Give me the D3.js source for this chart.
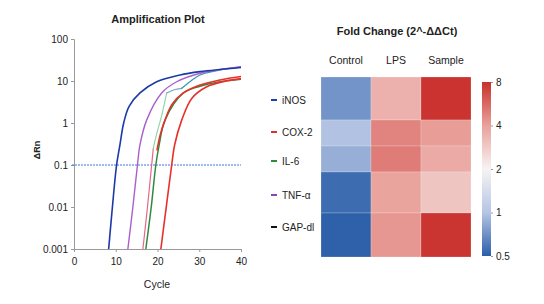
<!DOCTYPE html>
<html>
<head>
    <meta charset="UTF-8" />
    <title>qPCR</title>
    <style>
        body {
            margin: 0;
            padding: 0;
            background: #fff;
            font-family: 'Liberation Sans', Arial, sans-serif;
        }
        svg text { fill: #222; }
    </style>
</head>
<body>
    <div class="container"></div>

    <script src="https://cdnjs.cloudflare.com/ajax/libs/d3/7.8.5/d3.min.js"></script>
    <script>
        // ---- data ----
        const cycleTicks = [0, 10, 20, 30, 40];
        const rnTicks = [0.001, 0.01, 0.1, 1, 10, 100];
        const rnTickLabels = ['0.001', '0.01', '0.1', '1', '10', '100'];
        const threshold = 0.1;

        // amplification curves as [cycle, ΔRn]
        const curveGreen = [[17.2, 0.001], [18.5, 0.01], [19.6, 0.1], [20.4, 0.3], [21.8, 1.17], [26.2, 5.2], [30, 7.4], [35, 9.6], [40, 11]];
        const curveBlue = [[8.3, 0.001], [9.2, 0.01], [10.2, 0.1], [11, 0.3], [11.9, 1], [13.2, 2.5], [15.8, 5.2], [19.8, 9.6], [25.4, 13.9], [30.2, 16.7], [40, 21]];
        const curvePurple = [[12.9, 0.001], [14.1, 0.01], [15.2, 0.1], [15.8, 0.3], [17.4, 1.17], [21, 5.2], [24.6, 9.6], [30.2, 15.3], [40, 21.5]];
        const curvePink = [[16.5, 0.001], [17.6, 0.01], [18.6, 0.1], [19.0, 0.25]];
        const curveLightGreen = [[19.0, 0.25], [19.8, 0.55], [21, 1.5], [22.2, 5.2]];
        const curveSteel = [[22.2, 5.2], [24, 6.2], [25.8, 6.7]];
        const curveTeal = [[25.8, 6.7], [28, 10], [30.2, 13.9], [34, 17.5], [40, 22]];
        const curveRedA = [[19.9, 0.23], [20.6, 0.5], [21.8, 1.17], [23.5, 2.8], [26.2, 5.2], [30.2, 8], [35, 10.6], [40, 12.8]];
        const curveRedB = [[20.8, 0.001], [22.1, 0.01], [23.4, 0.1], [24.1, 0.3], [25.8, 1.17], [28.2, 3.85], [31.8, 7.3], [36, 9.8], [40, 11.4]];

        const genes = ['iNOS', 'COX-2', 'IL-6', 'TNF-α', 'GAP-dl'];
        const geneColors = ['#1f3fae', '#e0302a', '#2e8b3e', '#8e44ad', '#111'];
        const conditions = ['Control', 'LPS', 'Sample'];
        // fold change per gene: Control, LPS, Sample
        const foldControl = [0.72, 0.98, 0.86, 0.55, 0.51];
        const foldLPS = [3.5, 4.8, 5.0, 3.9, 4.25];
        const foldSample = [7.8, 4.1, 3.7, 2.95, 7.7];
        const scaleTicks = [0.5, 1, 2, 4, 8];

        // ---- layout ----
        const W = 544, H = 304;
        const svg = d3.select('.container').append('svg')
            .attr('width', W)
            .attr('height', H);
        const defs = svg.append('defs');

        // ===== amplification plot =====
        const x = d3.scaleLinear().domain([0, 40]).range([74, 241]);
        const y = d3.scaleLog().domain([0.001, 100]).range([249, 39]);

        svg.append('text')
            .attr('x', 158).attr('y', 23)
            .attr('text-anchor', 'middle')
            .style('font-size', '11px').style('font-weight', 'bold')
            .text('Amplification Plot');

        const yAxis = svg.append('g')
            .attr('transform', `translate(${x(0)},0)`)
            .call(d3.axisLeft(y).tickValues(rnTicks)
                .tickFormat((d, i) => rnTickLabels[i]).tickSize(3).tickPadding(3));
        const xAxis = svg.append('g')
            .attr('transform', `translate(0,${y(0.001)})`)
            .call(d3.axisBottom(x).tickValues(cycleTicks).tickSize(3).tickPadding(6));

        [xAxis, yAxis].forEach(g => {
            g.selectAll('path, line').attr('stroke', '#999');
            g.selectAll('text').style('font-size', '10px').attr('fill', '#222');
        });

        svg.append('text')
            .attr('x', 157).attr('y', 288)
            .attr('text-anchor', 'middle')
            .style('font-size', '10.5px')
            .text('Cycle');

        svg.append('text')
            .attr('transform', 'translate(40,150) rotate(-90)')
            .attr('text-anchor', 'middle')
            .style('font-size', '9px').style('font-weight', 'bold')
            .text('ΔRn');

        defs.append('clipPath').attr('id', 'plotClip')
            .append('rect')
            .attr('x', x(0)).attr('y', y(100))
            .attr('width', x(40) - x(0)).attr('height', y(0.001) - y(100));

        svg.append('line')
            .attr('x1', x(0) - 2).attr('x2', x(40))
            .attr('y1', y(threshold)).attr('y2', y(threshold))
            .attr('stroke', '#3b78d8').attr('stroke-width', 1)
            .attr('stroke-dasharray', '2,1');

        const lineGen = d3.line()
            .x(d => x(d[0]))
            .y(d => y(d[1]))
            .curve(d3.curveCatmullRom.alpha(0.5));

        const curves = [
            { pts: curveGreen, color: '#2e8b3e', w: 1.5 },
            { pts: curvePink, color: '#e8658c', w: 1.2 },
            { pts: curveLightGreen, color: '#93d6a8', w: 1.2 },
            { pts: curveSteel, color: '#7aa6c8', w: 1.2 },
            { pts: curveTeal, color: '#3f9ab0', w: 1.3 },
            { pts: curvePurple, color: '#a95fcc', w: 1.4 },
            { pts: curveRedA, color: '#e6302a', w: 1.6 },
            { pts: curveRedB, color: '#e8302a', w: 1.6 },
            { pts: curveBlue, color: '#1a3aa8', w: 1.6 }
        ];

        const lines = svg.append('g').attr('clip-path', 'url(#plotClip)');
        curves.forEach(c => {
            lines.append('path')
                .attr('d', lineGen(c.pts))
                .attr('fill', 'none')
                .attr('stroke', c.color)
                .attr('stroke-width', c.w)
                .attr('stroke-linecap', 'round');
        });

        // ===== legend =====
        const legendY = [100, 132, 161, 195, 227];
        const legend = svg.append('g');
        genes.forEach((g, i) => {
            legend.append('line')
                .attr('x1', 271).attr('x2', 277)
                .attr('y1', legendY[i]).attr('y2', legendY[i])
                .attr('stroke', geneColors[i]).attr('stroke-width', 2);
            legend.append('text')
                .attr('x', 282).attr('y', legendY[i] + 3.5)
                .style('font-size', '10px').attr('fill', '#333')
                .text(g);
        });

        // ===== heatmap =====
        const rowEdges = [77, 120, 146, 172, 213, 257];
        const rowIdx = d3.scaleOrdinal().domain(genes).range(d3.range(genes.length));
        const colX = d3.scaleBand().domain(conditions).range([321, 471]);

        const color = d3.scaleLog()
            .domain(scaleTicks)
            .range(['#2a5ea8', '#b5c5e4', '#f7f3f3', '#e9a19b', '#c92f2b'])
            .interpolate(d3.interpolateRgb);

        const cells = [];
        genes.forEach((g, i) => {
            cells.push({ gene: g, cond: 'Control', v: foldControl[i] });
            cells.push({ gene: g, cond: 'LPS', v: foldLPS[i] });
            cells.push({ gene: g, cond: 'Sample', v: foldSample[i] });
        });

        svg.append('g').selectAll('rect')
            .data(cells)
            .join('rect')
            .attr('x', d => colX(d.cond))
            .attr('y', d => rowEdges[rowIdx(d.gene)])
            .attr('width', colX.bandwidth())
            .attr('height', d => rowEdges[rowIdx(d.gene) + 1] - rowEdges[rowIdx(d.gene)])
            .attr('fill', d => color(d.v))
            .attr('stroke', 'rgba(255,255,255,0.35)')
            .attr('stroke-width', 0.6);

        svg.append('text')
            .attr('x', 397).attr('y', 35)
            .attr('text-anchor', 'middle')
            .style('font-size', '11px').style('font-weight', 'bold')
            .text('Fold Change (2^-ΔΔCt)');

        svg.append('g').selectAll('text')
            .data(conditions)
            .join('text')
            .attr('x', d => colX(d) + colX.bandwidth() / 2)
            .attr('y', 64)
            .attr('text-anchor', 'middle')
            .style('font-size', '10.5px')
            .text(d => d);

        // colour bar
        const cb = d3.scaleLog().domain([0.5, 8]).range([256, 82]);
        const grad = defs.append('linearGradient')
            .attr('id', 'cbGrad')
            .attr('x1', 0).attr('y1', 1).attr('x2', 0).attr('y2', 0);
        d3.range(0, 1.0001, 0.05).forEach(t => {
            const v = cb.invert(256 - t * 174);
            grad.append('stop').attr('offset', t).attr('stop-color', color(v));
        });
        svg.append('rect')
            .attr('x', 482).attr('y', cb(8))
            .attr('width', 9).attr('height', cb(0.5) - cb(8))
            .attr('fill', 'url(#cbGrad)');

        const cbAxis = svg.append('g')
            .attr('transform', 'translate(491,0)')
            .call(d3.axisRight(cb).tickValues(scaleTicks).tickFormat(d => d).tickSize(2).tickPadding(3));
        cbAxis.select('.domain').remove();
        cbAxis.selectAll('line').attr('stroke', '#999');
        cbAxis.selectAll('text').style('font-size', '10px').attr('fill', '#222');
    </script>
</body>
</html>
